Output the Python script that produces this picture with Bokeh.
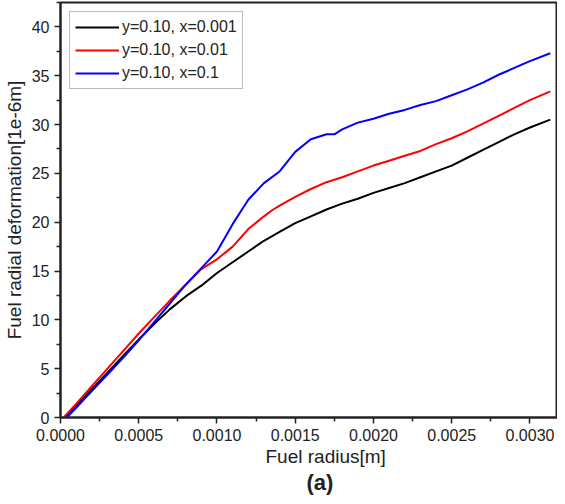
from bokeh.plotting import figure
from bokeh.models import FixedTicker, NumeralTickFormatter, Range1d, Title, Legend, LegendItem
from bokeh.embed import file_html
from bokeh.resources import INLINE

x_black = [0.00003, 0.0001, 0.0002, 0.0003, 0.0004, 0.0005, 0.0006, 0.0007, 0.0008, 0.0009, 0.0010,
           0.0011, 0.0012, 0.0013, 0.0014, 0.0015, 0.0016, 0.0017, 0.0018, 0.0019, 0.0020, 0.0021,
           0.0022, 0.0023, 0.0024, 0.0025, 0.0026, 0.0027, 0.0028, 0.0029, 0.0030, 0.00313]
y_black = [0, 1.2, 2.9, 4.6, 6.3, 8.0, 9.6, 11.1, 12.4, 13.5, 14.8, 15.9, 17.0, 18.1, 19.0, 19.9,
           20.6, 21.3, 21.9, 22.4, 23.0, 23.5, 24.0, 24.6, 25.2, 25.8, 26.6, 27.4, 28.2, 29.0, 29.7, 30.5]

x_red = [0.00002, 0.0001, 0.0002, 0.0003, 0.0004, 0.0005, 0.0006, 0.0007, 0.0008, 0.0009, 0.0010,
         0.0011, 0.0012, 0.0013, 0.00135, 0.0014, 0.0015, 0.0016, 0.0017, 0.0018, 0.0019, 0.0020, 0.0021,
         0.0022, 0.0023, 0.0024, 0.0025, 0.0026, 0.0027, 0.0028, 0.0029, 0.0030, 0.00313]
y_red = [0, 1.4, 3.2, 5.0, 6.8, 8.6, 10.3, 12.0, 13.6, 15.2, 16.2, 17.5, 19.3, 20.6, 21.2, 21.7, 22.6,
         23.4, 24.1, 24.6, 25.2, 25.8, 26.3, 26.8, 27.3, 28.0, 28.6, 29.3, 30.1, 30.9, 31.7, 32.5, 33.4]

x_blue = [0.00004, 0.0001, 0.0002, 0.0003, 0.0004, 0.0005, 0.0006, 0.0007, 0.0008, 0.0009, 0.0010,
          0.0011, 0.0012, 0.0013, 0.0014, 0.0015, 0.0016, 0.0017, 0.00175, 0.0018, 0.0019, 0.0020,
          0.0021, 0.0022, 0.0023, 0.0024, 0.0025, 0.0026, 0.0027, 0.0028, 0.0029, 0.0030, 0.00313]
y_blue = [0, 1.0, 2.7, 4.4, 6.1, 7.9, 9.8, 11.7, 13.6, 15.3, 17.0, 19.8, 22.3, 24.0, 25.2, 27.2,
          28.5, 29.0, 29.0, 29.5, 30.2, 30.6, 31.1, 31.5, 32.0, 32.4, 33.0, 33.6, 34.3, 35.1, 35.8, 36.5, 37.3]

labels = ["y=0.10, x=0.001", "y=0.10, x=0.01", "y=0.10, x=0.1"]
x_ticks = [0.0, 0.0005, 0.0010, 0.0015, 0.0020, 0.0025, 0.0030]
y_ticks = [0, 5, 10, 15, 20, 25, 30, 35, 40]

FONT = "Liberation Sans"

p = figure(width=557, height=496, output_backend="svg", toolbar_location=None,
           x_range=Range1d(0, 0.003176), y_range=Range1d(0, 42.5),
           min_border_left=52, min_border_right=0, min_border_top=2, min_border_bottom=76)
p.background_fill_color = "white"
p.border_fill_color = "white"
p.outline_line_color = "#222222"
p.outline_line_width = 2
p.xgrid.visible = False
p.ygrid.visible = False

r1 = p.line(x_black, y_black, line_color="black", line_width=2)
r2 = p.line(x_red, y_red, line_color="#ff0000", line_width=2)
r3 = p.line(x_blue, y_blue, line_color="#0000ff", line_width=2)

for ax in (p.xaxis[0], p.yaxis[0]):
    ax.axis_line_color = "#222222"
    ax.axis_line_width = 2
    ax.major_tick_line_color = "#222222"
    ax.minor_tick_line_color = "#222222"
    ax.major_tick_line_width = 1.5
    ax.minor_tick_line_width = 1.5
    ax.major_tick_out = 6
    ax.major_tick_in = 0
    ax.minor_tick_out = 4
    ax.minor_tick_in = 0
    ax.major_label_text_font = FONT
    ax.major_label_text_font_size = "16px"
    ax.major_label_text_color = "#222222"
    ax.axis_label_text_font = FONT
    ax.axis_label_text_font_size = "19px"
    ax.axis_label_text_font_style = "normal"
    ax.axis_label_text_color = "#222222"

p.xaxis[0].ticker = FixedTicker(ticks=x_ticks, minor_ticks=[0.00025 + 0.0005 * i for i in range(7)])
p.xaxis[0].formatter = NumeralTickFormatter(format="0.0000")
p.yaxis[0].ticker = FixedTicker(ticks=y_ticks, minor_ticks=[2.5 + 5 * i for i in range(9)])
p.yaxis[0].axis_label = "Fuel radial deformation[1e-6m]"
p.yaxis[0].axis_label_standoff = 4
p.xaxis[0].major_label_standoff = 5
p.yaxis[0].major_label_standoff = 5

xt = Title(text="Fuel radius[m]", align="left", offset=205, text_font=FONT, text_font_size="19px",
           text_font_style="normal", text_color="#222222", standoff=0, text_line_height=0.9)
p.add_layout(xt, "below")
t = Title(text="(a)", align="left", offset=246, text_font=FONT, text_font_size="22px",
          text_font_style="bold", text_color="#222222", standoff=3, text_line_height=0.9)
p.add_layout(t, "below")

legend = Legend(items=[LegendItem(label=labels[0], renderers=[r1]),
                       LegendItem(label=labels[1], renderers=[r2]),
                       LegendItem(label=labels[2], renderers=[r3])],
                location="top_left", margin=9, padding=5, spacing=3,
                glyph_width=44, glyph_height=20, label_height=20,
                label_text_font=FONT, label_text_font_size="16px", label_text_color="#222222",
                border_line_color="#777777", border_line_width=1.5,
                label_standoff=3)
p.add_layout(legend)

open("out.html", "w").write(file_html(p, INLINE))
